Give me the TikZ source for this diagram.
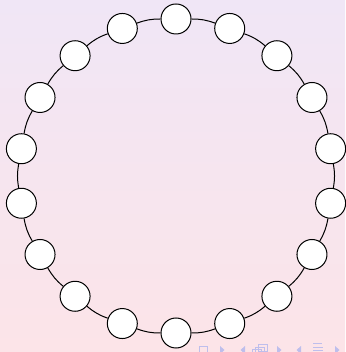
\documentclass[tikz,border=0pt]{standalone}
\usetikzlibrary{calc}
\definecolor{bgtop}{RGB}{240,230,246}
\definecolor{bgbot}{RGB}{252,228,232}
\definecolor{navc}{RGB}{190,190,236}
\tikzset{
  ringnode/.style={circle,draw=black,fill=white,line width=1pt,minimum size=30pt,inner sep=0pt},
  ringedge/.style={line width=1pt,black},
  navsym/.style={draw=navc,line width=0.9pt},
  navfill/.style={fill=navc,draw=none}
}
\begin{document}
\begin{tikzpicture}[x=1pt,y=1pt]
\shade[top color=bgtop,bottom color=bgbot] (0,0) rectangle (345,352);
\useasboundingbox (0,0) rectangle (345,352);
\coordinate (c) at (176,176);
\foreach \i in {0,...,17}{
  \pgfmathsetmacro{\ang}{90+20*\i}
  \node[ringnode] (n\i) at ($(c)+(\ang:157)$) {};
}
\foreach \i in {0,...,17}{
  \pgfmathtruncatemacro{\j}{mod(\i+1,18)}
  \draw[ringedge] (n\i) to[bend right=10] (n\j);
}
% navigation symbols (partially cut off)
\draw[navsym] (199.5,5.5) rectangle (207.5,-3);
\fill[navfill] (220,6) -- (220,-2) -- (224.5,2) -- cycle;
\fill[navfill] (245,6) -- (245,-2) -- (240.5,2) -- cycle;
\draw[navsym] (252.5,2.5) rectangle (261,-4);
\draw[navsym] (255.5,5) rectangle (264,-1.5);
\draw[navsym] (258.5,7.5) rectangle (267,1);
\fill[navfill] (277,6) -- (277,-2) -- (281.5,2) -- cycle;
\fill[navfill] (301,6) -- (301,-2) -- (296.5,2) -- cycle;
\draw[navsym] (313,8.5) -- (322,8.5);
\draw[navsym] (313,5) -- (323,5);
\draw[navsym] (313,1.5) -- (323,1.5);
\fill[navfill] (335,6) -- (335,-2) -- (339.5,2) -- cycle;
\end{tikzpicture}
\end{document}
